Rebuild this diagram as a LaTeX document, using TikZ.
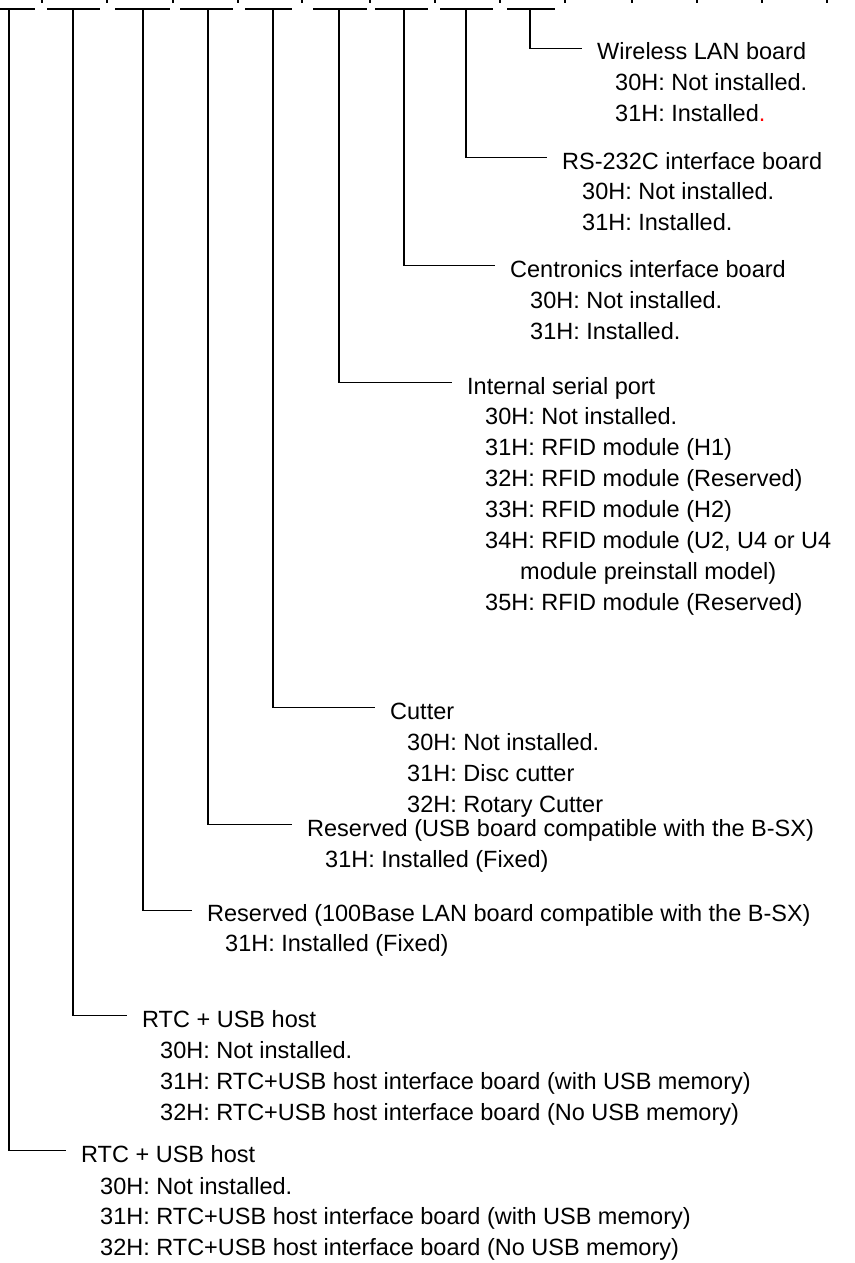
\documentclass[tikz,border=0pt]{standalone}
\usepackage{fontspec}
\setmainfont{Liberation Sans}
\begin{document}
\begin{tikzpicture}[x=1pt,y=-1pt,
  conn/.style={line width=1.1pt},
  barline/.style={line width=2pt},
  tickline/.style={line width=1.5pt},
  ttl/.style={anchor=base west, inner sep=0pt, text height=23pt, text depth=0pt, font=\fontsize{23.5}{28}\selectfont},
  opt/.style={anchor=base west, inner sep=0pt, font=\fontsize{23.5}{28}\selectfont}]
\useasboundingbox (0,0) rectangle (854,1263);
% top ticks and bars
\foreach \x in {42,107,173,238,302,370,435,500,565,632,697,762,827}
  \draw[tickline] (\x,0) -- (\x,3);
\foreach \a/\b in {0/35,47/100,115/170,180/233,245/292,313/367,375/428,440/493,507/555}
  \draw[barline] (\a,9.5) -- (\b,9.5);
% bar tap points
\coordinate (v1) at (530,9.5);
\coordinate (v2) at (466,9.5);
\coordinate (v3) at (404,9.5);
\coordinate (v4) at (339,9.5);
\coordinate (v5) at (273,9.5);
\coordinate (v6) at (208,9.5);
\coordinate (v7) at (143,9.5);
\coordinate (v8) at (73,9.5);
\coordinate (v9) at (9,9.5);
% 1 Wireless
\node[ttl] (t1) at (597,59.7) {Wireless LAN board};
\node[opt] (t1a) at (615,90.1) {30H: Not installed.};
\node[opt] (t1b) at (615,121.7) {31H: Installed\textcolor{red}{.}};
% 2 RS-232C
\node[ttl] (t2) at (562,169.1) {RS-232C interface board};
\node[opt] (t2a) at (582,199.1) {30H: Not installed.};
\node[opt] (t2b) at (582,230.7) {31H: Installed.};
% 3 Centronics
\node[ttl] (t3) at (510,277.4) {Centronics interface board};
\node[opt] (t3a) at (530,308.4) {30H: Not installed.};
\node[opt] (t3b) at (530,339.9) {31H: Installed.};
% 4 Internal serial
\node[ttl] (t4) at (467,394.4) {Internal serial port};
\node[opt] (t4a) at (485,424.4) {30H: Not installed.};
\node[opt] (t4b) at (485,455.4) {31H: RFID module (H1)};
\node[opt] (t4c) at (485,486.4) {32H: RFID module (Reserved)};
\node[opt] (t4d) at (485,517.4) {33H: RFID module (H2)};
\node[opt] (t4e) at (485,548.4) {34H: RFID module (U2, U4 or U4};
\node[opt] (t4f) at (520,579.4) {module preinstall model)};
\node[opt] (t4g) at (485,610.4) {35H: RFID module (Reserved)};
% 5 Cutter
\node[ttl] (t5) at (390,719.4) {Cutter};
\node[opt] (t5a) at (407,750.4) {30H: Not installed.};
\node[opt] (t5b) at (407,781.4) {31H: Disc cutter};
\node[opt] (t5c) at (407,812.4) {32H: Rotary Cutter};
% 6 Reserved USB
\node[ttl] (t6) at (307,836.4) {Reserved (USB board compatible with the B-SX)};
\node[opt] (t6a) at (325,867.4) {31H: Installed (Fixed)};
% 7 Reserved 100Base
\node[ttl] (t7) at (207,921.9) {Reserved (100Base LAN board compatible with the B-SX)};
\node[opt] (t7a) at (225,951.4) {31H: Installed (Fixed)};
% 8 RTC + USB host
\node[ttl] (t8) at (142,1027.4) {RTC + USB host};
\node[opt] (t8a) at (160,1058.4) {30H: Not installed.};
\node[opt] (t8b) at (160,1089.4) {31H: RTC+USB host interface board (with USB memory)};
\node[opt] (t8c) at (160,1120.4) {32H: RTC+USB host interface board (No USB memory)};
% 9 RTC + USB host
\node[ttl] (t9) at (81,1162.4) {RTC + USB host};
\node[opt] (t9a) at (100,1194.4) {30H: Not installed.};
\node[opt] (t9b) at (100,1224.9) {31H: RTC+USB host interface board (with USB memory)};
\node[opt] (t9c) at (100,1255.4) {32H: RTC+USB host interface board (No USB memory)};
% connectors
\foreach \i in {1,...,9}
  \draw[conn] (v\i) |- ([xshift=-15pt]t\i.west);
\end{tikzpicture}
\end{document}
